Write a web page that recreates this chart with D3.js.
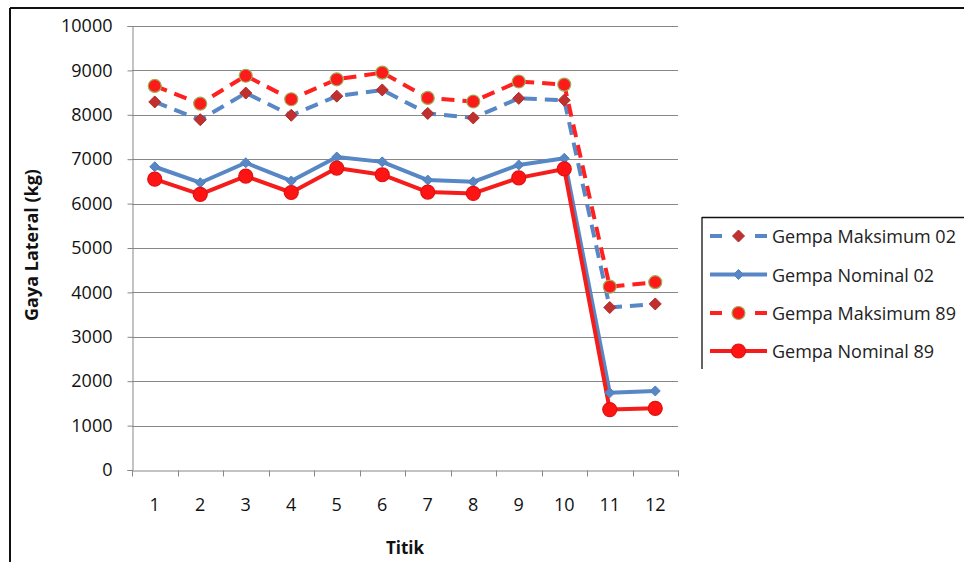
<!DOCTYPE html>
<html>
<head>
<meta charset="utf-8">
<script src="https://cdn.jsdelivr.net/npm/d3@7"></script>
<style>
  html, body { margin: 0; padding: 0; background: #ffffff; }
  svg { display: block; font-family: "Open Sans", "Noto Sans", sans-serif; }
</style>
</head>
<body>
<svg id="chart" width="964" height="562"></svg>
<script>
// Titik (points) along the structure
const categories = ["1", "2", "3", "4", "5", "6", "7", "8", "9", "10", "11", "12"];

// Lateral force per point (kg)
const gempaMaksimum02 = [8290, 7890, 8490, 7990, 8420, 8560, 8030, 7930, 8370, 8330, 3660, 3740];
const gempaNominal02  = [6830, 6470, 6920, 6510, 7050, 6940, 6530, 6490, 6870, 7020, 1740, 1780];
const gempaMaksimum89 = [8650, 8250, 8880, 8350, 8800, 8950, 8380, 8300, 8750, 8680, 4130, 4230];
const gempaNominal89  = [6550, 6210, 6620, 6250, 6800, 6650, 6260, 6230, 6580, 6780, 1360, 1390];

const seriesNames = ["Gempa Maksimum 02", "Gempa Nominal 02", "Gempa Maksimum 89", "Gempa Nominal 89"];
const yTicks = [0, 1000, 2000, 3000, 4000, 5000, 6000, 7000, 8000, 9000, 10000];

const series = [
  { name: seriesNames[0], values: gempaMaksimum02, color: "#5787c4", dash: "13,8", marker: "diamond", mSize: 12, mFill: "#c0302e", mStroke: "#b02a2a" },
  { name: seriesNames[1], values: gempaNominal02,  color: "#5787c4", dash: null,   marker: "diamond", mSize: 10, mFill: "#5787c4", mStroke: "#5080bd" },
  { name: seriesNames[2], values: gempaMaksimum89, color: "#ff2020", dash: "13,8", marker: "circle",  mSize: 6.5, mFill: "#ff1a1a", mStroke: "#9bb059" },
  { name: seriesNames[3], values: gempaNominal89,  color: "#f51c1c", dash: null,   marker: "circle",  mSize: 7,  mFill: "#ff1414", mStroke: "#e01010" }
];

const svg = d3.select("#chart");
const plot = { left: 132, right: 678, top: 26, bottom: 470 };

const x = d3.scaleBand().domain(categories).range([plot.left, plot.right]).paddingInner(0).paddingOuter(0);
const y = d3.scaleLinear().domain([0, 10000]).range([plot.bottom, plot.top]);

// outer frame of the chart object
svg.append("line").attr("x1", 10).attr("x2", 964).attr("y1", 8).attr("y2", 8)
  .attr("stroke", "#111").attr("stroke-width", 2);
svg.append("line").attr("x1", 10).attr("x2", 10).attr("y1", 8).attr("y2", 562)
  .attr("stroke", "#111").attr("stroke-width", 2);

// horizontal gridlines
svg.append("g").selectAll("line").data(yTicks.filter(d => d > 0)).join("line")
  .attr("x1", plot.left).attr("x2", plot.right)
  .attr("y1", d => Math.round(y(d)) + 0.5).attr("y2", d => Math.round(y(d)) + 0.5)
  .attr("stroke", "#878787").attr("stroke-width", 1);

// y axis
const yAxis = svg.append("g").attr("transform", `translate(${plot.left + 0.5},0)`)
  .call(d3.axisLeft(y).tickValues(yTicks).tickSize(5).tickPadding(15).tickFormat(d3.format("d")));
yAxis.select(".domain").attr("stroke", "#878787");
yAxis.selectAll(".tick line").attr("stroke", "#878787");
yAxis.selectAll(".tick text").attr("font-size", 18).attr("fill", "#111")
  .attr("font-family", "'Open Sans', sans-serif");

// x axis: labels centred in bands, ticks on band boundaries
const xAxis = svg.append("g").attr("transform", `translate(0,${plot.bottom + 0.5})`)
  .call(d3.axisBottom(x).tickSize(0).tickPadding(28));
xAxis.select(".domain").attr("stroke", "#878787");
xAxis.selectAll(".tick text").attr("font-size", 18).attr("fill", "#111")
  .attr("font-family", "'Open Sans', sans-serif");
const edges = categories.map(c => x(c)).concat([x.range()[1]]);
xAxis.append("g").selectAll("line").data(edges).join("line")
  .attr("x1", d => Math.round(d) + 0.5).attr("x2", d => Math.round(d) + 0.5)
  .attr("y1", 0).attr("y2", 6).attr("stroke", "#878787");

// axis titles
svg.append("text").attr("transform", "translate(31,245) rotate(-90)")
  .attr("text-anchor", "middle").attr("dominant-baseline", "central")
  .attr("font-size", 18).attr("font-weight", "bold").attr("fill", "#111")
  .text("Gaya Lateral (kg)");
svg.append("text").attr("x", 405).attr("y", 547)
  .attr("text-anchor", "middle").attr("dominant-baseline", "central")
  .attr("font-size", 17).attr("font-weight", "bold").attr("fill", "#111")
  .text("Titik");

const cx = c => x(c) + x.bandwidth() / 2;
const line = d3.line().x((d, i) => cx(categories[i])).y(d => y(d));

function drawMarker(g, s, px, py) {
  if (s.marker === "diamond") {
    const r = s.mSize / 2;
    g.append("path")
      .attr("d", `M${px},${py - r}L${px + r},${py}L${px},${py + r}L${px - r},${py}Z`)
      .attr("fill", s.mFill).attr("stroke", s.mStroke).attr("stroke-width", 1);
  } else {
    g.append("circle").attr("cx", px).attr("cy", py).attr("r", s.mSize)
      .attr("fill", s.mFill).attr("stroke", s.mStroke).attr("stroke-width", 1.2);
  }
}

// lines first, markers on top
const linesG = svg.append("g");
const markersG = svg.append("g");
series.forEach(s => {
  linesG.append("path").datum(s.values)
    .attr("d", line).attr("fill", "none")
    .attr("stroke", s.color).attr("stroke-width", 4)
    .attr("stroke-dasharray", s.dash).attr("stroke-linejoin", "round");
  s.values.forEach((v, i) => drawMarker(markersG, s, cx(categories[i]), y(v)));
});

// legend
const legend = svg.append("g");
legend.append("line").attr("x1", 702).attr("x2", 964).attr("y1", 217.5).attr("y2", 217.5)
  .attr("stroke", "#111").attr("stroke-width", 1.3);
legend.append("line").attr("x1", 702).attr("x2", 702).attr("y1", 217).attr("y2", 369)
  .attr("stroke", "#111").attr("stroke-width", 1.3);
const legendY = [236, 274.5, 313, 351];
series.forEach((s, i) => {
  const ly = legendY[i];
  const g = legend.append("g");
  if (s.dash) {
    g.append("line").attr("x1", 710).attr("x2", 722).attr("y1", ly).attr("y2", ly)
      .attr("stroke", s.color).attr("stroke-width", 4);
    g.append("line").attr("x1", 755).attr("x2", 767).attr("y1", ly).attr("y2", ly)
      .attr("stroke", s.color).attr("stroke-width", 4);
  } else {
    g.append("line").attr("x1", 710).attr("x2", 767).attr("y1", ly).attr("y2", ly)
      .attr("stroke", s.color).attr("stroke-width", 4);
  }
  drawMarker(g, s, 738.5, ly);
  g.append("text").attr("x", 772).attr("y", ly).attr("dominant-baseline", "central")
    .attr("font-size", 18).attr("fill", "#222").text(s.name);
});
</script>
</body>
</html>
